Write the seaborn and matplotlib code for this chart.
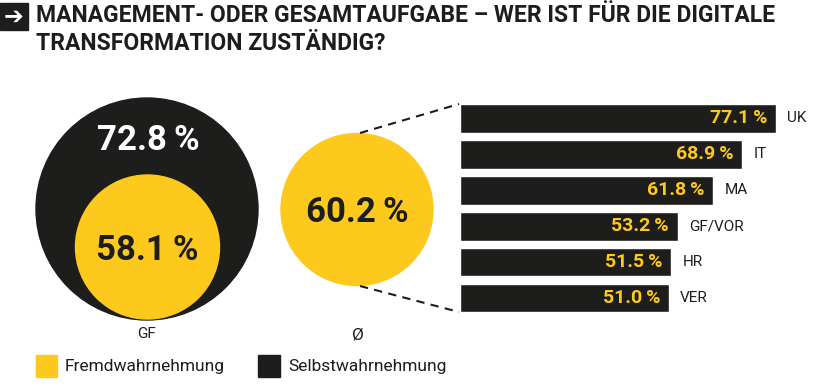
import matplotlib
matplotlib.use('Agg')
import matplotlib.pyplot as plt
from matplotlib.patches import Circle, Rectangle
import seaborn as sns
import pandas as pd

# data
departments = ['UK', 'IT', 'MA', 'GF/VOR', 'HR', 'VER']
dept_values = [77.1, 68.9, 61.8, 53.2, 51.5, 51.0]
gf_selbst = 72.8
gf_fremd = 58.1
avg_fremd = 60.2
legend_labels = ['Fremdwahrnehmung', 'Selbstwahrnehmung']
title_lines = ['MANAGEMENT- ODER GESAMTAUFGABE – WER IST FÜR DIE DIGITALE',
               'TRANSFORMATION ZUSTÄNDIG?']

YELLOW = '#fdc91c'
BLACK = '#1d1d1b'

sns.set_theme(style='white')
plt.rcParams['font.family'] = ['Roboto', 'DejaVu Sans']


def fmt(v):
    return f'{v:.1f}\u2009%'


fig = plt.figure(figsize=(8.2, 3.9), dpi=100)

# background axes in pixel coordinates for circles, title and legend
bg = fig.add_axes([0, 0, 1, 1])
bg.set_xlim(0, 820)
bg.set_ylim(390, 0)
bg.axis('off')

# title with arrow box
bg.add_patch(Rectangle((0, 3), 28, 27, color=BLACK))
bg.text(13.5, 17, '➔', color='white', fontsize=17, fontweight='bold',
        ha='center', va='center', family=['DejaVu Sans'])
bg.text(36, 22, title_lines[0], fontsize=16.5, fontweight='bold', color=BLACK, va='baseline')
bg.text(36, 50, title_lines[1], fontsize=16.5, fontweight='bold', color=BLACK, va='baseline')

# GF circles
bg.add_patch(Circle((147, 209), 111, color=BLACK))
bg.add_patch(Circle((147.5, 247), 72, color=YELLOW))
bg.text(148, 141, fmt(gf_selbst), color='white', fontsize=25, fontweight='bold',
        ha='center', va='center')
bg.text(147.5, 250, fmt(gf_fremd), color=BLACK, fontsize=25, fontweight='bold',
        ha='center', va='center')
bg.text(147, 334, 'GF', color=BLACK, fontsize=11, ha='center', va='center')

# average circle
bg.add_patch(Circle((357, 209.5), 76, color=YELLOW))
bg.text(357, 212, fmt(avg_fremd), color=BLACK, fontsize=25, fontweight='bold',
        ha='center', va='center')
bg.text(357.5, 335, 'Ø', color=BLACK, fontsize=12.5, ha='center', va='center')

# dashed connectors
bg.plot([360, 459], [133, 104], color=BLACK, lw=1.5, ls=(0, (4, 3)))
bg.plot([360, 459], [286, 312], color=BLACK, lw=1.5, ls=(0, (4, 3)))

# legend
bg.add_patch(Rectangle((36, 355), 21, 22, color=YELLOW))
bg.text(65, 367, legend_labels[0], fontsize=12.5, color=BLACK, va='center')
bg.add_patch(Rectangle((258, 355), 22, 22, color=BLACK))
bg.text(288, 367, legend_labels[1], fontsize=12.5, color=BLACK, va='center')

# department bars
df = pd.DataFrame({'dept': departments, 'value': dept_values})
ax = fig.add_axes([460 / 820, (390 - 316) / 390, 340 / 820, 215.5 / 390])
sns.barplot(data=df, x='value', y='dept', orient='h', color=BLACK,
            width=0.8, saturation=1, ax=ax)
ax.set_xlim(0, 340 / 4.1)
ax.axis('off')
for i, v in enumerate(dept_values):
    ax.annotate(fmt(v), (v, i), xytext=(-6.5, 0), textcoords='offset points',
                ha='right', va='center', color=YELLOW, fontsize=14, fontweight='bold')
    ax.annotate(departments[i], (v, i), xytext=(8, 0), textcoords='offset points',
                ha='left', va='center', color=BLACK, fontsize=11)

fig.savefig('out.png', dpi=100, facecolor='white')
